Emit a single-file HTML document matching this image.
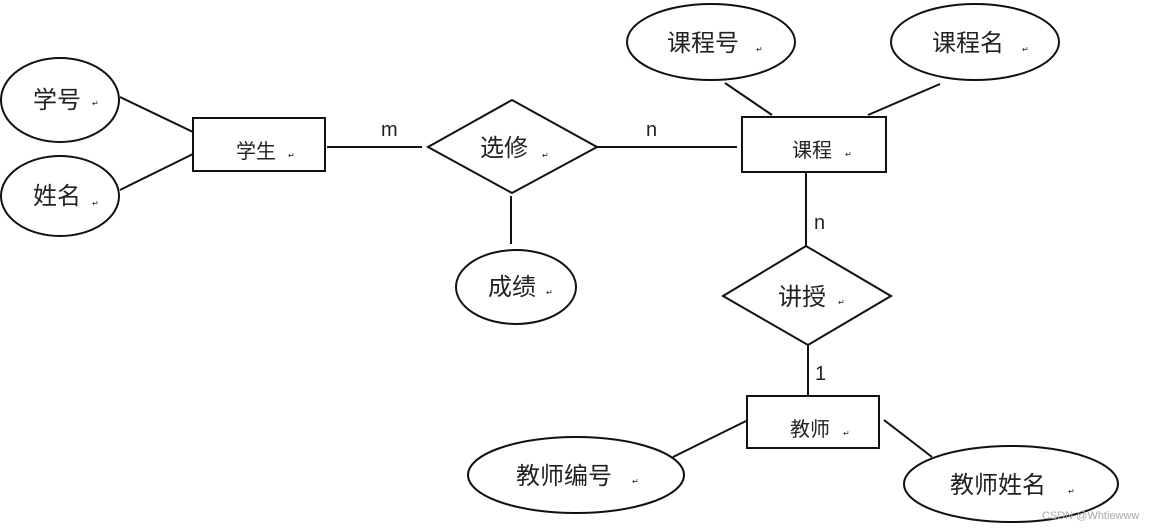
<!DOCTYPE html>
<html><head><meta charset="utf-8"><style>
html,body{margin:0;padding:0;background:#fff;width:1170px;height:530px;overflow:hidden}
svg text{font-family:"Liberation Sans","Noto Sans CJK SC",sans-serif;fill:#222}
.r{font-size:8px;fill:#999}
</style></head><body>
<svg width="1170" height="530" viewBox="0 0 1170 530" xmlns="http://www.w3.org/2000/svg">
<g fill="none" stroke="#111" stroke-width="2">
<ellipse cx="60" cy="100" rx="59" ry="42"/>
<ellipse cx="60" cy="196" rx="59" ry="40"/>
<rect x="193" y="118" width="132" height="53"/>
<line x1="120" y1="97" x2="193" y2="132"/>
<line x1="120" y1="190" x2="193" y2="154"/>
<line x1="327" y1="147" x2="422" y2="147"/>
<polygon points="428,147 512,100 597,147 512,193"/>
<line x1="511" y1="196" x2="511" y2="244"/>
<ellipse cx="516" cy="287" rx="60" ry="37"/>
<line x1="597" y1="147" x2="737" y2="147"/>
<rect x="742" y="117" width="144" height="55"/>
<ellipse cx="711" cy="42" rx="84" ry="38"/>
<ellipse cx="975" cy="42" rx="84" ry="38"/>
<line x1="725" y1="83" x2="772" y2="115"/>
<line x1="940" y1="84" x2="868" y2="115"/>
<line x1="806" y1="172" x2="806" y2="246"/>
<polygon points="723,296 806,246 891,296 808,345"/>
<line x1="808" y1="345" x2="808" y2="396"/>
<rect x="747" y="396" width="132" height="52"/>
<ellipse cx="576" cy="475" rx="108" ry="38"/>
<line x1="673" y1="457" x2="746" y2="421"/>
<ellipse cx="1011" cy="484" rx="107" ry="38"/>
<line x1="932" y1="457" x2="884" y2="420"/>
</g>
<g font-size="24">
<text x="33" y="108">学号</text>
<text x="33" y="204">姓名</text>
<text x="480" y="156">选修</text>
<text x="488" y="295">成绩</text>
<text x="667" y="51">课程号</text>
<text x="932" y="51">课程名</text>
<text x="778" y="305">讲授</text>
<text x="516" y="484">教师编号</text>
<text x="950" y="493">教师姓名</text>
</g>
<g font-size="20">
<text x="236" y="158">学生</text>
<text x="792" y="157">课程</text>
<text x="790" y="436">教师</text>
</g>
<g font-family="Liberation Serif" font-size="20" style="font-family:'Liberation Serif',serif">
<text x="381" y="136">m</text>
<text x="646" y="136">n</text>
<text x="814" y="229">n</text>
<text x="815" y="380">1</text>
</g>
<g class="r">
<text x="92" y="106">↵</text><text x="92" y="206">↵</text><text x="288" y="158">↵</text>
<text x="542" y="158">↵</text><text x="546" y="295">↵</text><text x="756" y="52">↵</text>
<text x="1022" y="52">↵</text><text x="845" y="157">↵</text><text x="838" y="305">↵</text>
<text x="843" y="436">↵</text><text x="632" y="484">↵</text><text x="1068" y="494">↵</text>
</g>
<text x="1042" y="519" font-size="11" style="fill:#aaa">CSDN @Whtiewww</text>
</svg>
</body></html>
